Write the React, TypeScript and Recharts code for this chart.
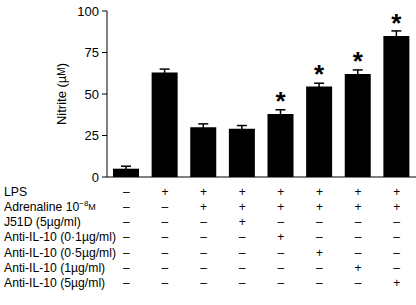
import React from 'react';
import { BarChart, Bar, XAxis, YAxis, ErrorBar, LabelList, Label } from 'recharts';

const categories = ['G1', 'G2', 'G3', 'G4', 'G5', 'G6', 'G7', 'G8'];
const nitrite = [5, 63, 30, 29, 38, 54.5, 62, 85];
const sem = [1.5, 2, 2, 2, 2.5, 2, 2.5, 3];
const significant = [false, false, false, false, true, true, true, true];
const yTicks = [0, 25, 50, 75, 100];
const rowLabels = [
  'LPS',
  'Adrenaline 10',
  'J51D (5\u00b5g/ml)',
  'Anti-IL-10 (0\u00b71\u00b5g/ml)',
  'Anti-IL-10 (0\u00b75\u00b5g/ml)',
  'Anti-IL-10 (1\u00b5g/ml)',
  'Anti-IL-10 (5\u00b5g/ml)',
];
const rowSigns = [
  [0, 1, 1, 1, 1, 1, 1, 1],
  [0, 0, 1, 1, 1, 1, 1, 1],
  [0, 0, 0, 1, 0, 0, 0, 0],
  [0, 0, 0, 0, 1, 0, 0, 0],
  [0, 0, 0, 0, 0, 1, 0, 0],
  [0, 0, 0, 0, 0, 0, 1, 0],
  [0, 0, 0, 0, 0, 0, 0, 1],
];

const data = categories.map((c, i) => ({
  cat: c,
  value: nitrite[i],
  err: sem[i],
  star: significant[i] ? '*' : '',
}));

const FONT = '"Liberation Sans", Arial, Helvetica, sans-serif';
const ROW0 = 191.5;
const ROWSTEP = 15.3;

const XTick = (props: any) => {
  const { x, index } = props;
  const els: any[] = [];
  rowSigns.forEach((row, r) => {
    els.push(
      <text key={'s' + r} x={x} y={ROW0 + r * ROWSTEP} textAnchor="middle" dominantBaseline="central"
        fontSize={12} fontFamily={FONT} fill="#000">
        {row[index] ? '+' : '\u2013'}
      </text>
    );
  });
  if (index === 0) {
    rowLabels.forEach((lab, r) => {
      els.push(
        <text key={'l' + r} x={4} y={ROW0 + r * ROWSTEP} textAnchor="start" dominantBaseline="central"
          fontSize={12.2} fontFamily={FONT} fill="#000">
          {lab}
          {r === 1 ? (
            <>
              <tspan dy={-4} fontSize={8}>{'\u22128'}</tspan>
              <tspan dy={4} fontSize={9}>M</tspan>
            </>
          ) : null}
        </text>
      );
    });
  }
  return <g>{els}</g>;
};

const StarLabel = (props: any) => {
  const { x, y, width, value } = props;
  if (!value) return null;
  return (
    <text x={x + width / 2} y={y - 4} textAnchor="middle" fontSize={26} fontWeight="bold"
      fontFamily={FONT} fill="#000">
      {value}
    </text>
  );
};

const YLabel = (props: any) => {
  const cx = 61;
  const cy = 94;
  return (
    <text x={cx} y={cy} transform={`rotate(-90 ${cx} ${cy})`} textAnchor="middle" dominantBaseline="central"
      fontSize={13} fontFamily={FONT} fill="#000">
      {'Nitrite (\u00b5'}<tspan fontSize={10}>M</tspan>{')'}
    </text>
  );
};

export default function App() {
  return (
    <div style={{ position: 'absolute', left: 0, top: 0, width: 416, height: 305, background: '#fff' }}>
      <BarChart width={416} height={305} data={data} margin={{ top: 11, right: 0, left: 0, bottom: 0 }}
        barCategoryGap={12}>
        <XAxis dataKey="cat" height={128} interval={0} tickLine={false} axisLine={{ stroke: '#000' }}
          tick={<XTick />} />
        <YAxis width={107} domain={[0, 100]} ticks={yTicks} tickSize={5} tickMargin={3}
          axisLine={{ stroke: '#000' }} tickLine={{ stroke: '#000' }}
          tick={{ fill: '#000', fontSize: 13, fontFamily: FONT }}>
          <Label content={<YLabel />} />
        </YAxis>
        <Bar dataKey="value" fill="#000" barSize={26} isAnimationActive={false}>
          <ErrorBar dataKey="err" width={5} stroke="#000" strokeWidth={1.5} direction="y" />
          <LabelList dataKey="star" content={<StarLabel />} />
        </Bar>
      </BarChart>
    </div>
  );
}
